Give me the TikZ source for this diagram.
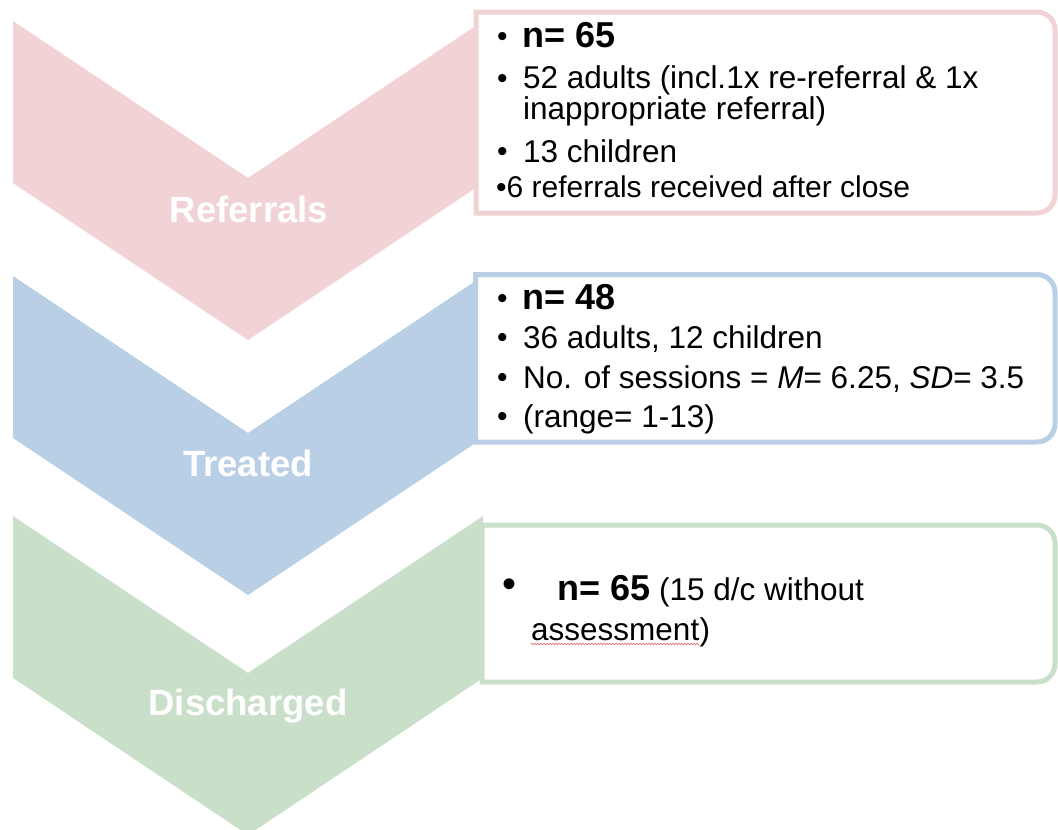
\documentclass[tikz,border=0pt]{standalone}
\usepackage{fontspec}
\setmainfont{Liberation Sans}
\usetikzlibrary{decorations.pathmorphing}
\definecolor{refpink}{RGB}{241,210,213}
\definecolor{treatblue}{RGB}{185,207,230}
\definecolor{dischgreen}{RGB}{202,223,201}
\definecolor{spellred}{RGB}{228,130,130}

% chevron: top edge y, colour
\newcommand\stagechevron[2]{%
  \fill[#2] (13,#1) -- (248,#1+157) -- (483,#1) -- (483,#1+162)
    -- (248,#1+319) -- (13,#1+162) -- cycle;}
% info panel: left x, top y, bottom y, colour (right corners rounded)
\newcommand\infopanel[4]{%
  \draw[panel, draw=#4] (#1,#2) -- (1037,#2) arc(-90:0:18)
    -- (1055,#3-18) arc(0:90:18) -- (#1,#3) -- cycle;}

\begin{document}
\begin{tikzpicture}[x=1pt,y=-1pt,
  chevlabel/.style={anchor=base, text=white, inner sep=0,
    font=\fontsize{36.5}{36}\selectfont\bfseries},
  boxtext/.style={anchor=base west, inner sep=0,
    font=\fontsize{31.5}{30}\selectfont},
  bullet/.style={anchor=base west, inner sep=0,
    font=\fontsize{30}{30}\selectfont},
  boldtext/.style={anchor=base west, inner sep=0,
    font=\fontsize{36}{36}\selectfont\bfseries},
  bigbullet/.style={anchor=base west, inner sep=0,
    font=\fontsize{40}{40}\selectfont},
  panel/.style={line width=5pt, fill=white}]
\useasboundingbox (0,0) rectangle (1058,830);

% stage chevrons
\stagechevron{21}{refpink}
\stagechevron{276}{treatblue}
\stagechevron{516}{dischgreen}

\node[chevlabel] (lref) at (249,222) {Referrals};
\node[chevlabel] (ltre) at (248,476) {Treated};
\node[chevlabel] (ldis) at (248,715) {Discharged};

% info panels
\infopanel{476}{12}{213}{refpink}
\infopanel{475.5}{274.5}{442}{treatblue}
\infopanel{482}{525}{682}{dischgreen}

% referrals panel
\node[bullet] (p1a) at (497,46) {•};
\node[boldtext] (r1) at (522,47) {n= 65};
\node[bullet] (p1b) at (497,88) {•};
\node[boxtext] (r2) at (523,88) {52 adults (incl.1x re-referral \& 1x};
\node[boxtext] (r2b) at (523,119) {inappropriate referral)};
\node[bullet] (p1c) at (497,161) {•};
\node[boxtext] (r3) at (523,162) {13 children};
\node[boxtext, font=\fontsize{30}{30}\selectfont] (r4) at (496,197) {•6 referrals received after close};

% treated panel
\node[bullet] (p2a) at (497,308) {•};
\node[boldtext] (t1) at (522,309) {n= 48};
\node[bullet] (p2b) at (497,347) {•};
\node[boxtext] (t2) at (523,348) {36 adults, 12 children};
\node[bullet] (p2c) at (497,387) {•};
\node[boxtext] (t3) at (523,388) {No. of sessions = \textit{M}= 6.25, \textit{SD}= 3.5};
\node[bullet] (p2d) at (497,426) {•};
\node[boxtext] (t4) at (523,427) {(range= 1-13)};

% discharged panel
\node[bigbullet] (p3a) at (502,597) {•};
\node[boxtext] (d1) at (557,600) {{\fontsize{36}{36}\selectfont\bfseries n= 65} (15 d/c without};
\node[boxtext] (d2) at (531,640) {assessment};
\node[boxtext] (d2p) at (d2.base east) {)};
\draw[spellred, line width=0.8pt, decorate,
  decoration={snake, amplitude=0.8pt, segment length=3pt}]
  ([yshift=-4pt]d2.base west) -- ([yshift=-4pt]d2.base east);
\end{tikzpicture}
\end{document}
